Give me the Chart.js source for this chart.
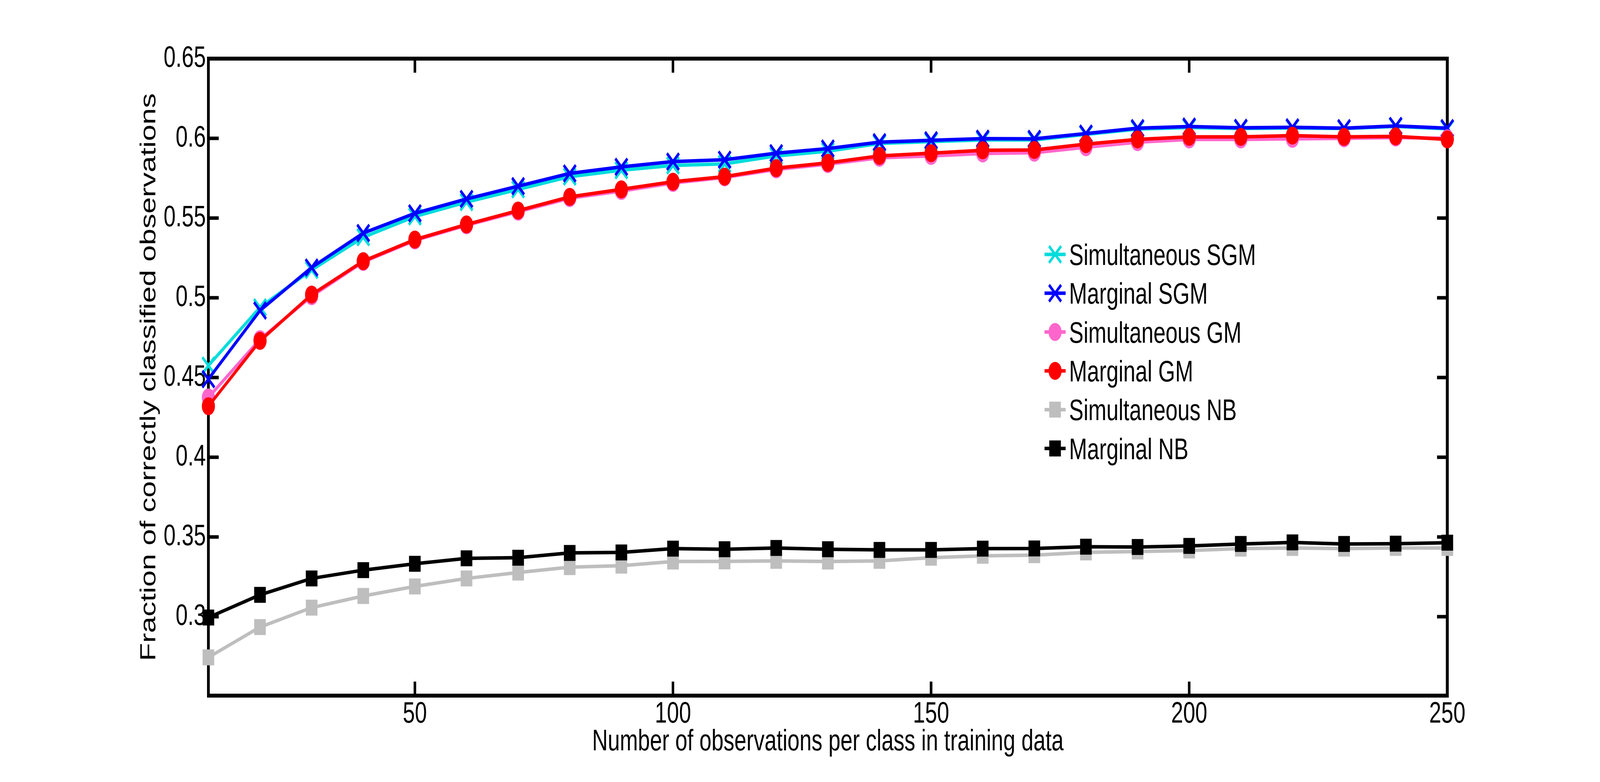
<!DOCTYPE html>
<html>
<head>
<meta charset="utf-8">
<script src="https://cdn.jsdelivr.net/npm/chart.js@4.4.0/dist/chart.umd.min.js"></script>
<style>
html,body{margin:0;padding:0;background:#ffffff;overflow:hidden;}
#wrap{position:absolute;left:0;top:0;width:5605px;height:2001px;transform-origin:0 0;}
#c{display:block;width:5605px;height:2001px;}
</style>
</head>
<body>
<div id="wrap"><canvas id="c" width="5605" height="2001"></canvas></div>
<script>
// ---------------- data ----------------
const xValues = [10,20,30,40,50,60,70,80,90,100,110,120,130,140,150,160,170,180,190,200,210,220,230,240,250];

const seriesNames = ['Simultaneous SGM','Marginal SGM','Simultaneous GM','Marginal GM','Simultaneous NB','Marginal NB'];

const simSGM  = [0.4575,0.494,0.5175,0.538,0.551,0.560,0.568,0.576,0.580,0.583,0.584,0.589,0.592,0.5968,0.598,0.599,0.599,0.6025,0.6058,0.6068,0.6062,0.6065,0.6062,0.6075,0.606];
const margSGM = [0.449,0.492,0.519,0.5406,0.553,0.562,0.570,0.578,0.5821,0.5854,0.5866,0.5907,0.5936,0.5976,0.5988,0.5998,0.5997,0.603,0.6064,0.6074,0.6066,0.6069,0.6064,0.6078,0.6064];
const simGM   = [0.4375,0.474,0.501,0.5225,0.536,0.5455,0.554,0.5625,0.567,0.572,0.5755,0.5805,0.5838,0.5878,0.589,0.5905,0.591,0.5944,0.5976,0.5993,0.5993,0.5997,0.600,0.6005,0.600];
const margGM  = [0.432,0.473,0.502,0.523,0.5365,0.546,0.5547,0.5633,0.568,0.5728,0.576,0.5813,0.5846,0.589,0.5907,0.5925,0.5927,0.5964,0.5993,0.6009,0.6009,0.6017,0.6009,0.6012,0.5993];
const simNB   = [0.2745,0.2935,0.3057,0.313,0.319,0.324,0.3277,0.3311,0.332,0.3346,0.3347,0.335,0.3346,0.335,0.337,0.3382,0.3386,0.3403,0.3409,0.3415,0.3427,0.3431,0.3427,0.3431,0.3431];
const margNB  = [0.2995,0.3137,0.324,0.3292,0.3332,0.3366,0.337,0.340,0.3403,0.3427,0.3423,0.3431,0.3423,0.3419,0.3419,0.3427,0.3428,0.3439,0.3437,0.3444,0.3456,0.3466,0.3456,0.3458,0.3464];

const xTicks = [50,100,150,200,250];
const xTickLabels = ['50','100','150','200','250'];
const yTicks = [0.3,0.35,0.4,0.45,0.5,0.55,0.6,0.65];
const yTickLabels = ['0.3','0.35','0.4','0.45','0.5','0.55','0.6','0.65'];

const xAxisTitle = 'Number of observations per class in training data';
const yAxisTitle = 'Fraction of correctly classified observations';

// fit the 5605x2001 drawing into whatever window we get
(function fit() {
  const w = window.innerWidth || 5605, h = window.innerHeight || 2001;
  document.getElementById('wrap').style.transform = 'scale(' + (w / 5605) + ',' + (h / 2001) + ')';
})();

// ---------------- styling ----------------
const FONT = "'Liberation Sans', Arial, Helvetica, sans-serif";
Chart.defaults.font.family = FONT;
Chart.defaults.font.size = 76;
Chart.defaults.color = '#000000';

const seriesValues = [simSGM, margSGM, simGM, margGM, simNB, margNB];
const seriesColors = ['#00DCDC','#0000FF','#FF66CC','#FF0000','#BEBEBE','#000000'];
const seriesMarkers = ['crossRot','crossRot','circle','circle','rect','rect'];
const markerRadius = {crossRot:30, circle:21, rect:26};
const markerBorder = {crossRot:8, circle:4, rect:4};

const datasets = seriesValues.map((vals, i) => ({
  label: seriesNames[i],
  data: xValues.map((x, j) => ({x: x, y: vals[j]})),
  borderColor: seriesColors[i],
  backgroundColor: seriesColors[i],
  pointBackgroundColor: seriesColors[i],
  pointBorderColor: seriesColors[i],
  borderWidth: 9,
  pointStyle: seriesMarkers[i],
  pointRadius: markerRadius[seriesMarkers[i]],
  pointBorderWidth: markerBorder[seriesMarkers[i]],
  pointHoverRadius: markerRadius[seriesMarkers[i]],
  tension: 0,
  fill: false,
  clip: false,
  order: -i
}));

function drawMarker(ctx, style, x, y, r, color, bw) {
  ctx.save();
  ctx.fillStyle = color;
  ctx.strokeStyle = color;
  ctx.lineWidth = bw;
  ctx.beginPath();
  if (style === 'circle') {
    ctx.arc(x, y, r, 0, Math.PI * 2);
    ctx.fill(); ctx.stroke();
  } else if (style === 'rect') {
    const s = Math.SQRT1_2 * r;
    ctx.rect(x - s, y - s, 2 * s, 2 * s);
    ctx.fill(); ctx.stroke();
  } else {
    const o = Math.SQRT1_2 * r;
    ctx.moveTo(x - o, y - o); ctx.lineTo(x + o, y + o);
    ctx.moveTo(x - o, y + o); ctx.lineTo(x + o, y - o);
    ctx.stroke();
  }
  ctx.restore();
}

const boxPlugin = {
  id: 'matlabBox',
  beforeDatasetsDraw(chart) {
    const {ctx, chartArea: {left, right, top, bottom}, scales: {x, y}} = chart;
    ctx.save();
    ctx.strokeStyle = '#000000';
    ctx.lineWidth = 10;
    ctx.lineJoin = 'miter';
    ctx.strokeRect(left, top, right - left, bottom - top);
    ctx.lineWidth = 9;
    ctx.lineCap = 'butt';
    const tl = 36;
    ctx.beginPath();
    x.ticks.forEach(t => {
      const px = x.getPixelForValue(t.value);
      ctx.moveTo(px, bottom); ctx.lineTo(px, bottom - tl);
      ctx.moveTo(px, top); ctx.lineTo(px, top + tl);
    });
    y.ticks.forEach(t => {
      const py = y.getPixelForValue(t.value);
      ctx.moveTo(left, py); ctx.lineTo(left + tl, py);
      ctx.moveTo(right, py); ctx.lineTo(right - tl, py);
    });
    ctx.stroke();
    ctx.restore();
  }
};

const legendPlugin = {
  id: 'matlabLegend',
  afterDraw(chart) {
    const ctx = chart.ctx;
    const x0 = 3659, x1 = 3733, xm = 3696, tx = 3745;
    const y0 = 651, dy = 99.3;
    ctx.save();
    chart.data.datasets.forEach((ds, i) => {
      const cy = y0 + i * dy;
      ctx.strokeStyle = ds.borderColor;
      ctx.lineWidth = ds.borderWidth;
      ctx.beginPath();
      ctx.moveTo(x0, cy); ctx.lineTo(x1, cy);
      ctx.stroke();
      drawMarker(ctx, ds.pointStyle, xm, cy, ds.pointRadius, ds.borderColor, ds.pointBorderWidth);
      ctx.fillStyle = '#000000';
      ctx.font = '76px ' + FONT;
      ctx.textAlign = 'left';
      ctx.textBaseline = 'alphabetic';
      ctx.fillText(ds.label, tx, cy + 27);
    });
    ctx.restore();
  }
};

new Chart(document.getElementById('c'), {
  type: 'line',
  data: { datasets: datasets },
  options: {
    responsive: false,
    maintainAspectRatio: false,
    devicePixelRatio: 1,
    animation: false,
    events: [],
    layout: { padding: { left: 0, top: 150, right: 535, bottom: 0 } },
    plugins: { legend: { display: false }, tooltip: { enabled: false } },
    scales: {
      x: {
        type: 'linear',
        min: 10,
        max: 250,
        grid: { display: false, drawTicks: false },
        border: { display: false },
        afterBuildTicks: (scale) => { scale.ticks = xTicks.map(v => ({value: v})); },
        afterFit: (scale) => { scale.height = 221; },
        ticks: {
          padding: 2,
          maxRotation: 0,
          autoSkip: false,
          font: { size: 76 },
          color: '#000000',
          callback: (v) => { const k = xTicks.indexOf(v); return k >= 0 ? xTickLabels[k] : ''; }
        },
        title: {
          display: true,
          text: xAxisTitle,
          font: { size: 76 },
          color: '#000000',
          padding: { top: 0, bottom: 56 }
        }
      },
      y: {
        type: 'linear',
        min: 0.2505,
        max: 0.65,
        grid: { display: false, drawTicks: false },
        border: { display: false },
        afterBuildTicks: (scale) => { scale.ticks = yTicks.map(v => ({value: v})); },
        afterFit: (scale) => { scale.width = 730; },
        ticks: {
          padding: 9,
          autoSkip: false,
          font: { size: 76 },
          color: '#000000',
          callback: (v) => {
            const k = yTicks.findIndex(t => Math.abs(t - v) < 1e-9);
            return k >= 0 ? yTickLabels[k] : '';
          }
        },
        title: {
          display: true,
          text: yAxisTitle,
          font: { size: 76 },
          color: '#000000',
          padding: { top: 477, bottom: 0 }
        }
      }
    }
  },
  plugins: [boxPlugin, legendPlugin]
});
</script>
</body>
</html>
